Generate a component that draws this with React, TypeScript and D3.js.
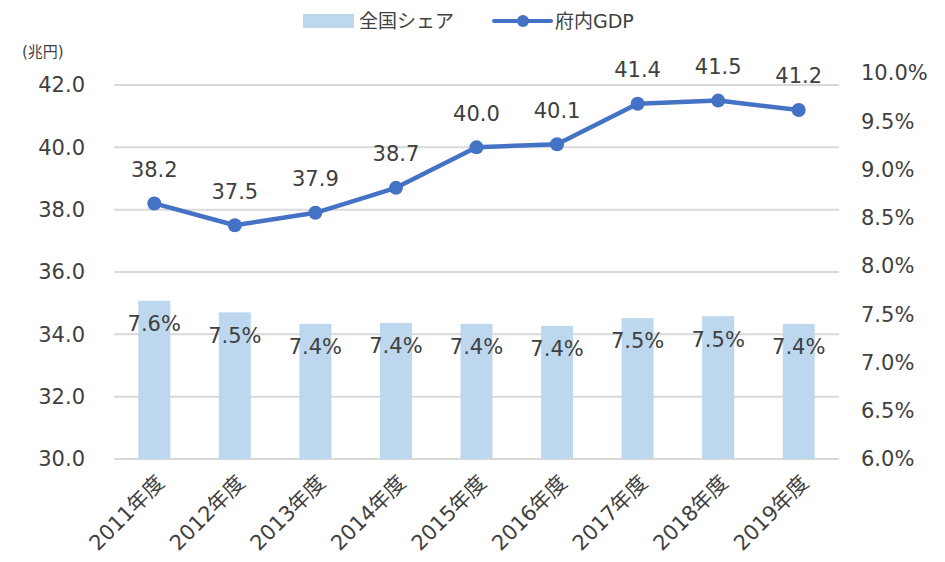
import { useEffect } from "react";
import * as d3 from "d3";

const years = ["2011年度", "2012年度", "2013年度", "2014年度", "2015年度", "2016年度", "2017年度", "2018年度", "2019年度"];
const gdp = [38.2, 37.5, 37.9, 38.7, 40.0, 40.1, 41.4, 41.5, 41.2];
const share = [7.64, 7.52, 7.4, 7.41, 7.4, 7.38, 7.46, 7.48, 7.4];
const leftTicks = [30, 32, 34, 36, 38, 40, 42];
const rightTicks = [6.0, 6.5, 7.0, 7.5, 8.0, 8.5, 9.0, 9.5, 10.0];

const W = 945;
const H = 562;
const FONT = "'DejaVu Sans', Verdana, 'Noto Sans CJK JP', sans-serif";
const TEXT = "#404040";

export default function App() {
  useEffect(() => {
    document.body.style.margin = "0";
  }, []);

  const x = d3.scaleBand<string>().domain(years).range([114, 839]);
  const yL = d3.scaleLinear().domain([30, 42]).range([459, 85]);
  const yR = d3.scaleLinear().domain([6, 10]).range([459, 73]);
  const barW = 32;
  const cx = (i: number) => x(years[i])! + x.bandwidth() / 2;

  const line = d3
    .line<number>()
    .x((_, i) => cx(i))
    .y((d) => yL(d));

  return (
    <svg width={W} height={H} style={{ display: "block", fontFamily: FONT }}>
      <rect width={W} height={H} fill="#fff" />

      {/* legend */}
      <rect x={303} y={14} width={51} height={14} fill="#BDD7EE" />
      <text x={359} y={28} fontSize={19} fill={TEXT}>全国シェア</text>
      <line x1={494} x2={551} y1={21} y2={21} stroke="#4472C4" strokeWidth={4} strokeLinecap="round" />
      <circle cx={523} cy={21} r={6} fill="#4472C4" />
      <text x={555} y={28} fontSize={19} fill={TEXT}>府内GDP</text>

      <text x={22} y={57} fontSize={15} fill={TEXT}>(兆円)</text>

      {/* gridlines + left axis */}
      {leftTicks.map((t) => (
        <g key={t}>
          <line x1={114} x2={839} y1={yL(t)} y2={yL(t)} stroke="#D9D9D9" strokeWidth={2} />
          <text x={85} y={yL(t)} dy="0.35em" textAnchor="end" fontSize={21} fill={TEXT}>
            {t.toFixed(1)}
          </text>
        </g>
      ))}

      {/* right axis */}
      {rightTicks.map((t) => (
        <text key={t} x={861} y={yR(t)} dy="0.35em" fontSize={21} fill={TEXT}>
          {t.toFixed(1)}%
        </text>
      ))}

      {/* bars */}
      {share.map((v, i) => (
        <rect
          key={years[i]}
          x={cx(i) - barW / 2}
          y={yR(v)}
          width={barW}
          height={yR(6) - yR(v)}
          fill="#BDD7EE"
        />
      ))}
      {share.map((v, i) => (
        <text key={"s" + i} x={cx(i)} y={yR(v) + 23} dy="0.35em" textAnchor="middle" fontSize={21} fill={TEXT}>
          {v.toFixed(1)}%
        </text>
      ))}

      {/* line */}
      <path d={line(gdp) ?? ""} fill="none" stroke="#4472C4" strokeWidth={4.5} strokeLinejoin="round" />
      {gdp.map((v, i) => (
        <circle key={"p" + i} cx={cx(i)} cy={yL(v)} r={7} fill="#4472C4" />
      ))}
      {gdp.map((v, i) => (
        <text key={"g" + i} x={cx(i)} y={yL(v) - 34} dy="0.35em" textAnchor="middle" fontSize={21} fill={TEXT}>
          {v.toFixed(1)}
        </text>
      ))}

      {/* x labels */}
      {years.map((yname, i) => (
        <text
          key={yname}
          transform={`translate(${cx(i) + 6},${479}) rotate(-45)`}
          textAnchor="end"
          dy="0.35em"
          fontSize={21}
          fill={TEXT}
        >
          {yname}
        </text>
      ))}
    </svg>
  );
}
